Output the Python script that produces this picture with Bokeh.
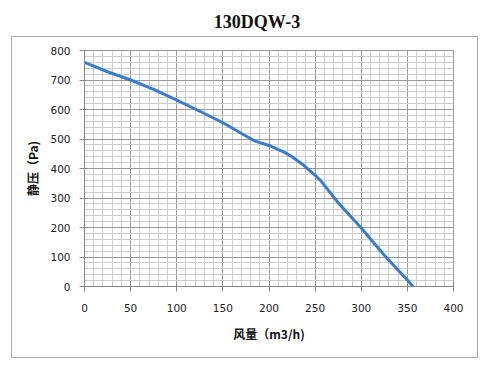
from bokeh.plotting import figure
from bokeh.models import SingleIntervalTicker, Range1d, Div
from bokeh.layouts import column
from bokeh.embed import file_html
from bokeh.resources import INLINE

# Data
flow = [0, 25, 50, 75, 100, 125, 150, 175, 185, 200, 218, 225, 238, 250, 256, 275, 300, 325, 350, 356]
pressure = [760, 728, 700, 668, 632, 594, 555, 510, 493, 478, 453, 440, 410, 377, 359, 284, 198, 106, 22, 0]

title_text = "130DQW-3"
x_label = "风量（m3/h)"
y_label = "静压（Pa)"

title_div = Div(text=title_text, width=300, height=37, margin=(0, 0, 0, 107),
                styles={"font-family": "Liberation Serif", "font-size": "18px",
                        "font-weight": "bold", "text-align": "center",
                        "line-height": "44px", "color": "#111111"})

p = figure(width=465, height=320, output_backend="svg", toolbar_location=None,
           title_location=None, margin=(0, 0, 0, 12),
           x_range=Range1d(0, 400), y_range=Range1d(0, 800),
           min_border_left=72, min_border_right=24, min_border_top=13, min_border_bottom=71,
           styles={"outline": "1.5px solid #a8a8a8", "outline-offset": "0px"})

p.xaxis.ticker = SingleIntervalTicker(interval=50, num_minor_ticks=5)
p.yaxis.ticker = SingleIntervalTicker(interval=100, num_minor_ticks=5)

for ax in (p.xaxis[0], p.yaxis[0]):
    ax.axis_line_color = "#868686"
    ax.major_tick_line_color = "#868686"
    ax.major_tick_in = 3
    ax.major_tick_out = 5
    ax.minor_tick_line_color = None
    ax.major_label_text_font = "DejaVu Sans"
    ax.major_label_text_font_size = "10.5px"
    ax.major_label_text_color = "#222222"
    ax.axis_label_text_font = "Noto Sans CJK SC"
    ax.axis_label_text_font_size = "12px"
    ax.axis_label_text_font_style = "bold"
    ax.axis_label_text_color = "#111111"

p.xaxis.axis_label = x_label
p.yaxis.axis_label = y_label
p.xaxis.major_label_standoff = 12
p.yaxis.major_label_standoff = 9
p.xaxis.axis_label_standoff = 10
p.yaxis.axis_label_standoff = 6

for g in (p.xgrid[0], p.ygrid[0]):
    g.grid_line_color = "#999999"
    g.grid_line_width = 1
    g.minor_grid_line_color = "#cdcdcd"
    g.minor_grid_line_width = 1

p.outline_line_color = "#999999"
p.background_fill_color = "white"
p.border_fill_color = "white"

p.line(flow, pressure, line_color="#3a7ccc", line_width=3, line_join="round", line_cap="round")

layout = column(title_div, p, spacing=0)

open("out.html", "w").write(file_html(layout, INLINE))
